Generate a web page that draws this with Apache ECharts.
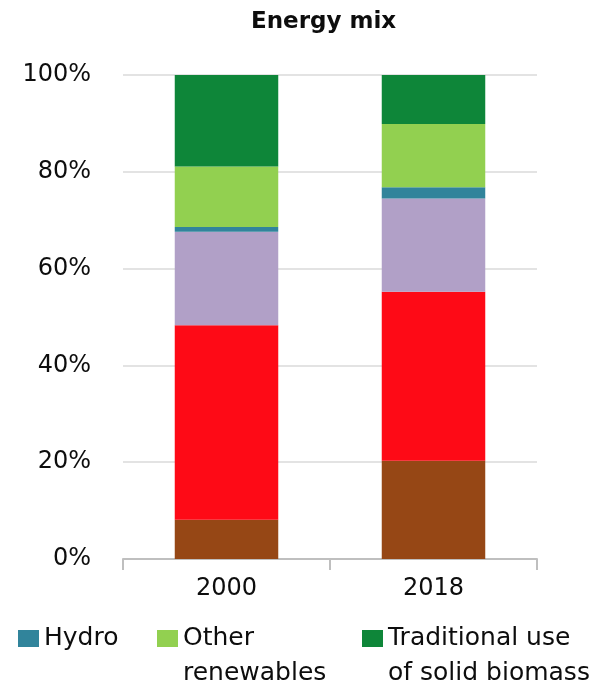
<!DOCTYPE html>
<html>
<head>
<meta charset="utf-8">
<script src="https://cdn.jsdelivr.net/npm/echarts@6/dist/echarts.min.js"></script>
<style>html,body{margin:0;padding:0;background:#fff;}#chart{width:603px;height:686px;}</style>
</head>
<body>
<div id="chart"></div>
<script>
const categories = ['2000', '2018'];
const coal = [8.1, 20.3];
const oil = [40.2, 34.9];
const gas = [19.3, 19.3];
const hydro = [1.0, 2.3];
const otherRenewables = [12.5, 13.1];
const tradBiomass = [18.9, 10.1];
const yTicks = [0, 20, 40, 60, 80, 100];

const FONT = 'DejaVu Sans';
const chart = echarts.init(document.getElementById('chart'));
function bar(name, data, color) {
  return { name: name, type: 'bar', stack: 'mix', data: data, barWidth: '50%',
    itemStyle: { color: color }, emphasis: { disabled: true } };
}
const legendBase = {
  padding: 0, itemWidth: 21, itemHeight: 17, itemGap: 0, icon: 'rect',
  textStyle: { fontFamily: FONT, fontSize: 25, color: '#0d0d0d', lineHeight: 35 },
  selectedMode: false
};
chart.setOption({
  animation: false,
  title: { text: 'Energy mix', left: 246, top: 6,
    textStyle: { fontFamily: FONT, fontSize: 23, fontWeight: 'bold', color: '#0d0d0d' } },
  grid: { left: 123, right: 66, top: 75, bottom: 127, containLabel: false },
  legend: [
    Object.assign({}, legendBase, { left: 18, top: 621, data: ['Hydro'] }),
    Object.assign({}, legendBase, { left: 157, top: 586, data: ['Other renewables'],
      formatter: function () { return ' \nOther\nrenewables'; } }),
    Object.assign({}, legendBase, { left: 362, top: 586, data: ['Traditional use of solid biomass'],
      formatter: function () { return ' \nTraditional use\nof solid biomass'; } })
  ],
  xAxis: {
    type: 'category', data: categories,
    axisLine: { lineStyle: { color: '#bfbfbf', width: 2 } },
    axisTick: { show: true, length: 11, lineStyle: { color: '#bfbfbf', width: 2 } },
    axisLabel: { fontFamily: FONT, fontSize: 24, color: '#0d0d0d', margin: 18 }
  },
  yAxis: {
    type: 'value', min: 0, max: 100, interval: 20,
    axisLine: { show: false }, axisTick: { show: false },
    splitLine: { lineStyle: { color: '#e3e3e3', width: 2 } },
    axisLabel: { fontFamily: FONT, fontSize: 24, color: '#0d0d0d', margin: 32,
      formatter: function (v) { return yTicks.indexOf(v) >= 0 ? v + '%' : ''; } }
  },
  series: [
    bar('Coal', coal, '#964715'),
    bar('Oil', oil, '#FE0A16'),
    bar('Natural gas', gas, '#B1A0C7'),
    bar('Hydro', hydro, '#31849B'),
    bar('Other renewables', otherRenewables, '#92D050'),
    bar('Traditional use of solid biomass', tradBiomass, '#0E8639')
  ]
});
</script>
</body>
</html>
